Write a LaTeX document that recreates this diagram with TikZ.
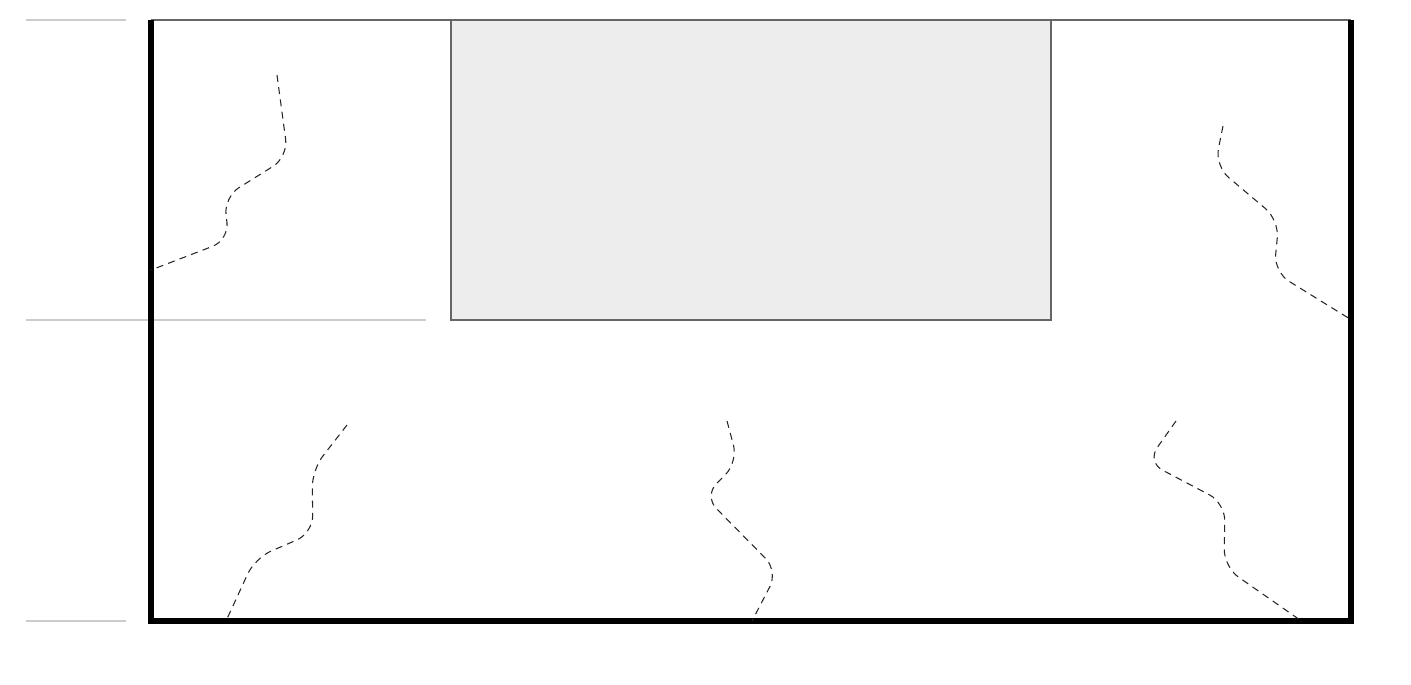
\documentclass[tikz,border=0pt]{standalone}
\usepackage{tikz}

\definecolor{roomfill}{HTML}{EDEDED}
\definecolor{guide}{HTML}{CCCCCC}
\definecolor{edge}{HTML}{666666}

\tikzset{
    crack/.style={line width=0.6pt, dash pattern=on 4pt off 3pt, rounded corners=10pt, black!85},
    wall/.style={line width=3.2pt, line join=miter},
    guideline/.style={guide, line width=1pt}
}

\begin{document}
\begin{tikzpicture}[x=0.02cm,y=-0.02cm]
                    \useasboundingbox (0,0) rectangle (1411,684);

                    % level guides on the left
                    \draw[guideline] (26,20) -- (126,20);
                    \draw[guideline] (26,320) -- (426,320);
                    \draw[guideline] (26,621) -- (126,621);

                    \draw[edge, line width=0.8pt] (151,20) -- (1351,20);
                    \filldraw[fill=roomfill, draw=edge, line width=0.8pt] (451,20) rectangle (1051,320);

                    \draw[wall] (151,20) -- (151,621) -- (1351,621) -- (1351,20);

                    \draw[crack] (277,75) -- (288,157) -- (224,197) -- (229,240) -- (151,270);
                    \draw[crack] (1223,126) -- (1215,166) -- (1279,220) -- (1274,272) -- (1350,319);
                    \draw[crack] (347,425) -- (312,470) -- (313,533) -- (255,558) -- (226,621);
                    \draw[crack] (727,421) -- (738,462) -- (704,496) -- (778,571) -- (752,621);
                    \draw[crack] (1176,421) -- (1147,462) -- (1225,503) -- (1224,567) -- (1300,620);
                \end{tikzpicture}
\end{document}
